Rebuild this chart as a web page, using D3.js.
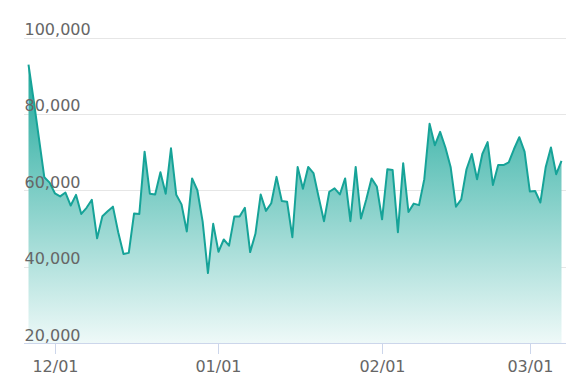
<!DOCTYPE html>
<html>
<head>
<meta charset="utf-8">
<script src="https://cdn.jsdelivr.net/npm/d3@7"></script>
<style>
  html, body { margin: 0; padding: 0; background: #fff; }
  svg { display: block; }
</style>
</head>
<body>
<svg id="chart" width="578" height="392"></svg>
<script>
// ---- data ----
const startDate = "2018-11-26";
const values = [
  92900, 83400, 73400, 63400, 62000, 59200, 58400, 59400, 56000, 58800,
  53800, 55400, 57500, 47400, 53200, 54500, 55700, 49000, 43300, 43600,
  53900, 53800, 70100, 59100, 58900, 64700, 59100, 71000, 58800, 56300,
  49200, 63100, 60000, 51800, 38300, 51200, 43900, 47100, 45500, 53100,
  53100, 55400, 43800, 48600, 58900, 54600, 56600, 63500, 57200, 57000,
  47700, 66100, 60400, 66100, 64500, 58100, 51900, 59600, 60500, 58900,
  63100, 51900, 66100, 52600, 57600, 63100, 61000, 52400, 65500, 65300,
  49000, 67100, 54300, 56500, 56100, 62900, 77400, 71800, 75300, 71200,
  66000, 55700, 57600, 65500, 69500, 62900, 69500, 72600, 61400, 66600,
  66600, 67300, 70800, 73900, 70100, 59700, 59800, 56800, 66000, 71200,
  64200, 67700
];
const yTicks = [20000, 40000, 60000, 80000, 100000];
const xTickDates = ["2018-12-01", "2019-01-01", "2019-02-01", "2019-03-01"];
const xTickLabels = ["12/01", "01/01", "02/01", "03/01"];

// ---- build ----
const parse = d3.utcParse("%Y-%m-%d");
const t0 = parse(startDate);
const data = values.map((v, i) => ({ date: d3.utcDay.offset(t0, i), value: v }));

const svg = d3.select("#chart");
const x = d3.scaleUtc()
  .domain([data[0].date, data[data.length - 1].date])
  .range([28.5, 561.5]);
const y = d3.scaleLinear().domain([20000, 100000]).range([343, 37.5]);

const gridLeft = 24, gridRight = 566;
const fmt = d3.format(",");

const defs = svg.append("defs");
const grad = defs.append("linearGradient")
  .attr("id", "fillGrad")
  .attr("gradientUnits", "userSpaceOnUse")
  .attr("x1", 0).attr("x2", 0)
  .attr("y1", y(93000)).attr("y2", y(20000));
grad.append("stop").attr("offset", 0).attr("stop-color", "#1ea89b");
grad.append("stop").attr("offset", 1).attr("stop-color", "#eef9f8");

// gridlines
svg.append("g").selectAll("line")
  .data(yTicks.filter(d => d !== 20000))
  .join("line")
  .attr("x1", gridLeft).attr("x2", gridRight)
  .attr("y1", d => Math.round(y(d)) + 0.5).attr("y2", d => Math.round(y(d)) + 0.5)
  .attr("stroke", "#e6e6e6").attr("stroke-width", 1);

// area
const area = d3.area()
  .x(d => x(d.date))
  .y0(y(20000))
  .y1(d => y(d.value));
svg.append("path")
  .datum(data)
  .attr("d", area)
  .attr("fill", "url(#fillGrad)");

const line = d3.line()
  .x(d => x(d.date))
  .y(d => y(d.value));
svg.append("path")
  .datum(data)
  .attr("d", line)
  .attr("fill", "none")
  .attr("stroke", "#16a398")
  .attr("stroke-width", 2)
  .attr("stroke-linejoin", "round");

// x axis line
svg.append("line")
  .attr("x1", gridLeft).attr("x2", gridRight)
  .attr("y1", Math.round(y(20000)) + 0.5).attr("y2", Math.round(y(20000)) + 0.5)
  .attr("stroke", "#ccd6eb").attr("stroke-width", 1);

// x ticks
const xt = svg.append("g");
xTickDates.forEach((ds, i) => {
  const xx = Math.round(x(parse(ds))) + 0.5;
  xt.append("line")
    .attr("x1", xx).attr("x2", xx)
    .attr("y1", y(20000)).attr("y2", y(20000) + 11)
    .attr("stroke", "#ccd6eb").attr("stroke-width", 1);
  xt.append("text")
    .attr("x", xx).attr("y", 372)
    .attr("text-anchor", "middle")
    .attr("font-family", "DejaVu Sans")
    .attr("font-size", 16)
    .attr("fill", "#666")
    .text(xTickLabels[i]);
});

// y labels
svg.append("g").selectAll("text")
  .data(yTicks)
  .join("text")
  .attr("x", 24.5)
  .attr("y", d => y(d) - 2.5)
  .attr("font-family", "DejaVu Sans")
  .attr("font-size", 16)
  .attr("fill", "#666")
  .text(d => fmt(d));
</script>
</body>
</html>
